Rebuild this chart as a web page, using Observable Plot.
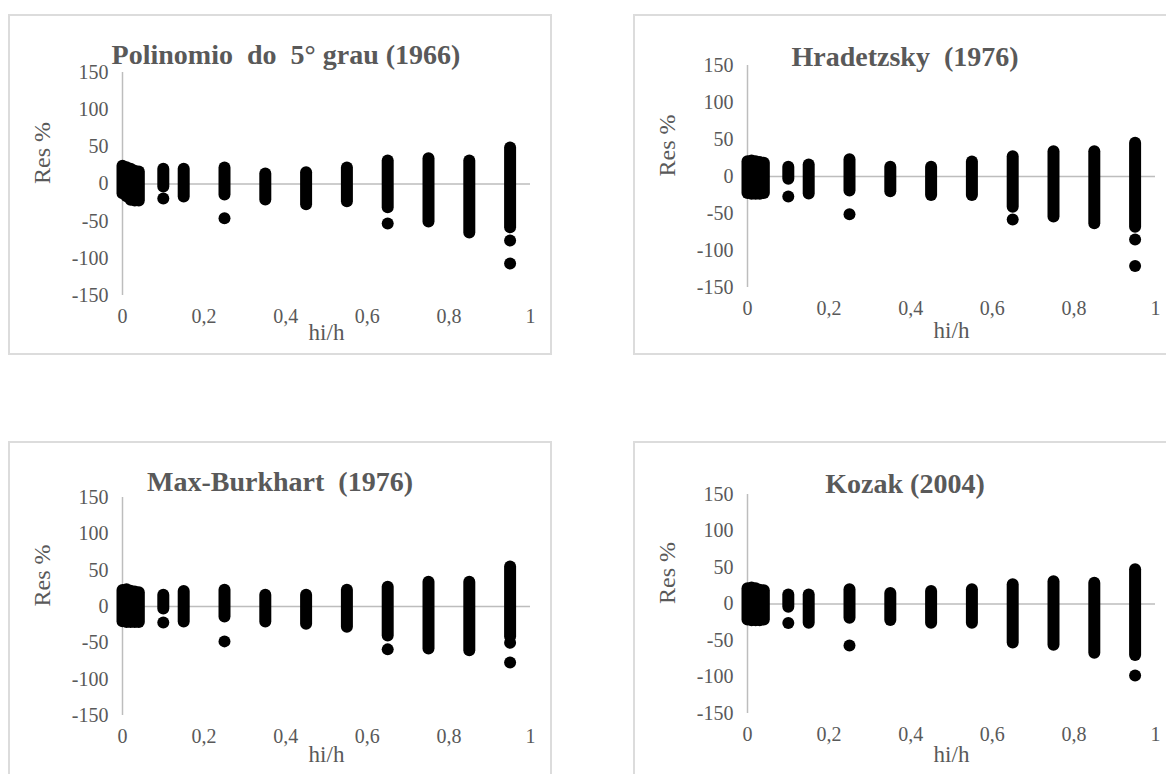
<!DOCTYPE html>
<html>
<head>
<meta charset="utf-8">
<script src="https://cdn.jsdelivr.net/npm/d3@7"></script>
<script src="https://cdn.jsdelivr.net/npm/@observablehq/plot@0.6"></script>
<style>
  html, body { margin: 0; padding: 0; background: #fff; }
  #root { position: relative; width: 1166px; height: 774px; overflow: hidden; background: #fff; }
  .box { position: absolute; border: 2px solid #dcdcdc; box-sizing: border-box; }
  .plot { position: absolute; }
  #root svg, #root svg text { font-family: "Liberation Serif", "Times New Roman", serif !important; }
  .title { position: absolute; text-align: center; white-space: pre; font-family: "Liberation Serif", "Times New Roman", serif;
           font-weight: bold; font-size: 28px; line-height: 28px; color: #595959; }
</style>
</head>
<body>
<div id="root"></div>
<script>
// ---- data ----
const titles = ["Polinomio  do  5° grau (1966)", "Hradetzsky  (1976)", "Max-Burkhart  (1976)", "Kozak (2004)"];
const xTicks = [0, 0.2, 0.4, 0.6, 0.8, 1];
const yTicks = [-150, -100, -50, 0, 50, 100, 150];
const hiH = [0, 0.01, 0.02, 0.03, 0.04, 0.1, 0.15, 0.25, 0.35, 0.45, 0.55, 0.65, 0.75, 0.85, 0.95];

// Polinomio do 5° grau: range of residuals per hi/h column, plus isolated points
const polyLo = [-13, -17, -22, -23, -23, -4, -17.5, -14.7, -21.5, -28, -24, -32, -51, -66, -59];
const polyHi = [24, 22, 20, 17, 16, 20, 20, 21.5, 13.5, 15, 21.5, 31, 34, 31, 48.5];
const polyOutX = [0.1, 0.25, 0.65, 0.95, 0.95];
const polyOutY = [-19.5, -46, -53, -76, -107];

// Hradetzsky
const hradLo = [-23, -24, -24, -24, -23, -3.6, -23.6, -19.6, -20.6, -25.6, -25.6, -41.6, -54.6, -64, -68.6];
const hradHi = [20, 21, 20, 19, 18, 12.6, 15.6, 22.6, 12.6, 12.6, 19.6, 26.6, 33.6, 33.6, 45];
const hradOutX = [0.1, 0.25, 0.65, 0.95, 0.95];
const hradOutY = [-27, -51, -58, -85, -121];

// Max-Burkhart
const maxbLo = [-21, -22, -22, -22, -22, -3.5, -21.5, -14.5, -21.5, -24.5, -28.5, -40.5, -58.5, -61, -42];
const maxbHi = [22, 23, 21, 20, 19, 15.5, 20.5, 22.5, 15.5, 15.5, 22.5, 26.5, 33.5, 33.5, 54.5];
const maxbOutX = [0.1, 0.25, 0.65, 0.95, 0.95];
const maxbOutY = [-22, -48, -59, -50, -77];

// Kozak
const kozLo = [-22, -23, -23, -23, -22, -4.5, -26.5, -19.5, -22.5, -26.5, -26.5, -53.5, -56.5, -67.5, -70.5];
const kozHi = [21, 22, 21, 19, 18, 12.5, 12.5, 19.5, 14.5, 17, 19.5, 26.5, 30.5, 28.5, 47];
const kozOutX = [0.1, 0.25, 0.95];
const kozOutY = [-26, -57, -98];

// ---- layout ----
const W = 544, H = 341, PLOT_W = 408;
const panels = [
  {title: titles[0], lo: polyLo, hi: polyHi, ox: polyOutX, oy: polyOutY, left: 8,   top: 14,  fy0: 72,  fy1: 295, xlab: 44, titleY: 55, titleDx: 6},
  {title: titles[1], lo: hradLo, hi: hradHi, ox: hradOutX, oy: hradOutY, left: 633, top: 14,  fy0: 65,  fy1: 287, xlab: 50, titleY: 57, titleDx: 0},
  {title: titles[2], lo: maxbLo, hi: maxbHi, ox: maxbOutX, oy: maxbOutY, left: 8,   top: 441, fy0: 497, fy1: 715, xlab: 46, titleY: 482, titleDx: 0},
  {title: titles[3], lo: kozLo,  hi: kozHi,  ox: kozOutX,  oy: kozOutY,  left: 633, top: 441, fy0: 494, fy1: 713, xlab: 48, titleY: 484, titleDx: 0}
];

const fmtX = d => String(d).replace(".", ",");
const root = document.getElementById("root");
const FONT = "'Liberation Serif', 'Times New Roman', serif";

for (const p of panels) {
  const cols = hiH.map((x, i) => ({x, lo: p.lo[i], hi: p.hi[i]}));
  const outs = p.ox.map((x, i) => ({x, y: p.oy[i]}));

  const box = document.createElement("div");
  box.className = "box";
  Object.assign(box.style, {left: p.left + "px", top: p.top + "px", width: W + "px", height: H + "px"});
  root.appendChild(box);

  const chart = Plot.plot({
    width: W, height: H,
    marginLeft: 114, marginRight: W - 114 - PLOT_W,
    marginTop: p.fy0 - p.top, marginBottom: p.top + H - p.fy1,
    x: {domain: [0, 1]},
    y: {domain: [-150, 150]},
    style: {background: "transparent", color: "#595959", fontFamily: FONT, overflow: "visible"},
    marks: [
      Plot.ruleX([0], {stroke: "#bdbdbd", strokeWidth: 1.5}),
      Plot.ruleY([0], {stroke: "#bdbdbd", strokeWidth: 1.5}),
      Plot.axisX({ticks: xTicks, tickFormat: fmtX, tickSize: 0, tickPadding: 13, fontSize: 20, fontFamily: FONT, label: null}),
      Plot.axisY({ticks: yTicks, tickFormat: d => String(d), tickSize: 0, tickPadding: 14, fontSize: 20, fontFamily: FONT, label: null}),
      Plot.text(["Res %"], {text: d => d, frameAnchor: "left", rotate: -90, dx: -80, fontSize: 24, fontFamily: FONT}),
      Plot.text(["hi/h"], {text: d => d, frameAnchor: "bottom", dy: p.xlab, fontSize: 23, fontFamily: FONT}),
      Plot.ruleX(cols, {x: "x", y1: "lo", y2: "hi", stroke: "#000", strokeWidth: 12, strokeLinecap: "round"}),
      Plot.dot(outs, {x: "x", y: "y", r: 6, fill: "#000", stroke: "none"})
    ]
  });
  chart.classList.add("plot");
  Object.assign(chart.style, {left: p.left + "px", top: p.top + "px"});
  root.appendChild(chart);

  const t = document.createElement("div");
  t.className = "title";
  t.textContent = p.title;
  Object.assign(t.style, {left: (p.left + p.titleDx) + "px", width: W + "px", top: (p.titleY - 14) + "px"});
  root.appendChild(t);
}
</script>
</body>
</html>
